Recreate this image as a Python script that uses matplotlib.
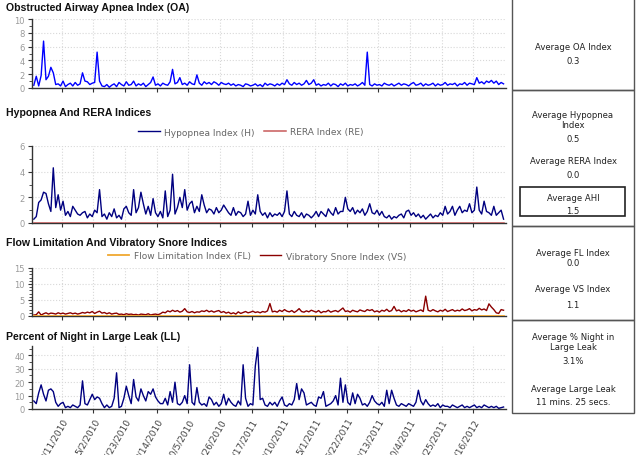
import numpy as np
import pandas as pd
import matplotlib
matplotlib.use("Agg")
import matplotlib.pyplot as plt
import matplotlib.dates as mdates
from matplotlib.patches import Rectangle
from matplotlib.ticker import AutoMinorLocator

plt.rcParams['font.family'] = ['DejaVu Sans']

# ---------------- data ----------------
start_date = "2010-01-24"
step_days = 4

oa_index = [
    0.4, 1.7, 0.3, 1.8, 6.8, 1.2, 1.7, 3.0, 2.2, 0.5,
    0.6, 0.3, 1.0, 0.2, 0.5, 0.7, 0.3, 0.8, 0.4, 0.6,
    2.2, 1.0, 0.9, 0.5, 0.7, 0.8, 5.2, 1.0, 0.3, 0.2,
    0.5, 0.1, 0.4, 0.6, 0.2, 0.8, 0.5, 0.3, 0.9, 0.4,
    0.5, 1.0, 0.3, 0.6, 0.4, 0.7, 0.2, 0.5, 0.8, 1.6,
    0.4, 0.6, 0.3, 0.7, 0.5, 0.4, 0.9, 2.7, 0.6, 0.8,
    1.5, 0.5, 0.7, 0.4, 0.9, 0.6, 0.5, 1.9, 0.7, 0.4,
    0.9, 0.6, 0.8, 0.5, 0.9, 0.7, 0.4, 0.8, 0.6, 0.5,
    0.7, 0.4, 0.6, 0.3, 0.5, 0.4, 0.2, 0.6, 0.5, 0.3,
    0.4, 0.6, 0.3, 0.5, 0.2, 0.7, 0.4, 0.6, 0.5, 0.3,
    0.6, 0.4, 0.7, 0.5, 1.2, 0.6, 0.4, 0.8, 0.5, 0.7,
    0.4, 0.6, 1.1, 0.5, 0.7, 1.2, 0.4, 0.6, 0.3, 0.5,
    0.4, 0.7, 0.3, 0.6, 0.5, 0.2, 0.6, 0.4, 0.7, 0.3,
    0.5, 0.4, 0.6, 0.3, 0.5, 0.8, 0.4, 5.2, 0.5, 0.3,
    0.6, 0.4, 0.5, 0.3, 0.7, 0.5, 0.4, 0.6, 0.3, 0.5,
    0.7, 0.4, 0.6, 0.5, 0.3, 0.6, 0.8, 0.4, 0.5, 0.7,
    0.3, 0.6, 0.4, 0.5, 0.7, 0.3, 0.6, 0.4, 0.5, 0.8,
    0.4, 0.6, 0.5, 0.7, 0.3, 0.6, 0.5, 0.8, 0.4, 0.7,
    0.6, 0.5, 1.5, 0.7, 0.9, 0.6, 1.0, 0.8, 1.1, 0.7,
    1.0, 0.5, 0.8, 0.6,
]

hypopnea_index = [
    0.3, 0.5, 1.6, 1.8, 2.4, 2.3, 1.5, 0.9, 4.3, 1.2,
    2.2, 1.0, 1.7, 0.6, 0.9, 0.5, 1.3, 1.0, 0.7, 0.6,
    0.8, 0.9, 0.4, 0.7, 0.5, 1.0, 0.8, 2.6, 0.5, 0.7,
    0.3, 0.8, 0.5, 1.1, 0.4, 0.6, 0.3, 1.1, 1.3, 0.8,
    0.6, 2.6, 0.8, 1.2, 2.4, 1.5, 0.7, 1.3, 0.6, 1.9,
    0.8, 0.5, 0.9, 0.4, 2.5, 0.5, 1.0, 3.8, 0.7, 1.2,
    2.0, 1.2, 2.6, 1.0, 1.5, 1.7, 0.8, 1.3, 0.9, 2.2,
    1.4, 0.8, 1.1, 1.0, 0.7, 1.2, 0.8, 1.0, 1.4, 1.1,
    0.8, 0.6, 1.2, 0.6, 0.9, 0.8, 0.5, 0.7, 1.7, 0.6,
    1.0, 0.7, 2.2, 0.9, 0.6, 0.8, 0.4, 0.8, 0.5, 0.7,
    0.6, 0.8, 0.5, 0.9, 2.5, 0.7, 0.5, 0.9, 0.6, 0.5,
    0.8, 0.4, 0.7, 0.6, 0.4, 0.6, 0.9, 0.5, 0.9, 0.7,
    0.5, 1.1, 0.8, 0.6, 1.2, 0.7, 0.9, 0.9, 2.0, 1.1,
    0.9, 1.2, 0.7, 1.0, 0.8, 1.1, 0.6, 0.9, 1.5, 0.8,
    0.7, 1.0, 0.6, 0.9, 0.5, 0.4, 0.6, 0.3, 0.5, 0.4,
    0.6, 0.7, 0.4, 0.9, 1.0, 0.6, 0.8, 0.5, 0.7, 0.4,
    0.6, 0.3, 0.5, 0.7, 0.4, 0.6, 0.5, 0.8, 0.6, 1.3,
    0.7, 0.9, 1.3, 0.6, 1.0, 1.3, 0.8, 1.0, 0.9, 1.5,
    0.8, 1.0, 2.8, 1.0, 0.7, 1.7, 0.9, 0.8, 0.6, 1.3,
    0.6, 0.8, 1.0, 0.3,
]

rera_index = [0.0] * len(hypopnea_index)

snore_index = [
    0.3, 0.4, 1.3, 0.3, 0.7, 1.0, 0.6, 0.9, 0.8, 0.6,
    1.0, 0.7, 0.9, 0.6, 0.8, 1.0, 0.7, 0.9, 0.6, 0.8,
    1.1, 0.9, 1.2, 1.0, 1.4, 0.8, 1.2, 1.5, 0.9, 1.1,
    0.7, 1.0, 0.6, 0.8, 0.9, 0.5, 0.6, 0.4, 0.7, 0.5,
    0.6, 0.4, 0.5, 0.3, 0.6, 0.5, 0.4, 0.7, 0.3, 0.5,
    0.6, 0.4, 0.7, 1.2, 1.0, 1.6, 1.3, 1.8, 1.4, 1.7,
    1.2, 1.5, 2.3, 1.3, 1.1, 1.4, 1.0, 1.3, 1.2, 1.6,
    1.4, 1.8, 1.3, 1.6, 1.2, 1.5, 1.7, 1.1, 1.4, 0.9,
    1.2, 0.7, 1.0, 0.6, 1.3, 0.8, 1.1, 1.4, 1.0, 1.2,
    1.5, 1.1, 1.3, 1.0, 1.4, 1.2, 1.6, 3.9, 1.3, 1.5,
    1.2, 1.8, 1.4, 2.0, 1.5, 1.3, 1.7, 1.1, 1.6, 2.3,
    1.4, 1.2, 1.6, 1.3, 1.8, 1.5, 1.2, 1.7, 1.0, 1.4,
    1.3, 1.8, 1.2, 1.5, 1.7, 1.3, 1.9, 2.5, 1.4, 1.6,
    1.2, 1.8, 1.5, 1.3, 1.9, 1.6, 1.4, 2.0, 1.7, 2.0,
    1.3, 1.6, 1.2, 1.8, 1.5, 2.1, 1.4, 1.7, 3.0, 1.6,
    1.9, 1.3, 1.7, 1.4, 2.0, 1.5, 1.8, 1.3, 1.6, 1.9,
    1.4, 6.2, 1.8, 1.5, 2.0, 1.6, 1.3, 1.8, 1.5, 2.1,
    1.4, 1.7, 2.0, 1.5, 1.8, 1.6, 2.2, 1.7, 1.9, 2.3,
    1.6, 2.0, 1.8, 2.4, 1.9, 2.2, 1.7, 3.8, 2.8, 2.0,
    1.0, 0.8, 2.0, 1.8,
]

flow_limitation_index = [0.0] * len(snore_index)

large_leak_pct = [
    6, 4, 12, 18, 11, 6, 14, 15, 13, 5,
    2, 4, 5, 1, 2, 1, 3, 2, 1, 3,
    21, 4, 3, 7, 11, 7, 9, 8, 4, 1,
    3, 1, 2, 8, 27, 1, 2, 8, 17, 10,
    4, 22, 9, 6, 15, 10, 6, 13, 11, 15,
    9, 6, 4, 4, 8, 3, 13, 5, 20, 4,
    3, 5, 10, 4, 33, 5, 3, 16, 5, 3,
    4, 2, 9, 7, 3, 5, 2, 4, 11, 3,
    8, 5, 3, 2, 6, 3, 33, 8, 2, 4,
    3, 32, 46, 7, 8, 3, 2, 5, 3, 5,
    2, 6, 9, 3, 2, 4, 3, 7, 19, 7,
    15, 12, 3, 4, 5, 3, 2, 9, 8, 13,
    2, 3, 4, 6, 10, 3, 23, 5, 18, 5,
    3, 12, 4, 11, 8, 3, 4, 2, 5, 10,
    6, 4, 3, 5, 2, 14, 4, 14, 8, 3,
    2, 4, 3, 2, 4, 3, 2, 5, 14, 6,
    3, 7, 4, 2, 3, 2, 4, 1, 3, 2,
    2, 1, 3, 2, 1, 2, 3, 1, 2, 1,
    2, 3, 1, 2, 1, 3, 2, 1, 2, 1,
    2, 0.5, 1, 1.5,
]

tick_labels = ["3/11/2010", "5/2/2010", "6/23/2010", "8/14/2010", "10/5/2010",
               "11/26/2010", "1/17/2011", "3/10/2011", "5/1/2011", "6/22/2011",
               "8/13/2011", "10/4/2011", "11/25/2011", "1/16/2012"]

panel_titles = ["Obstructed Airway Apnea Index (OA)", "Hypopnea And RERA Indices",
                "Flow Limitation And Vibratory Snore Indices", "Percent of Night in Large Leak (LL)"]

avg_oa = "0.3"
avg_h = "0.5"
avg_re = "0.0"
avg_ahi = "1.5"
avg_fl = "0.0"
avg_vs = "1.1"
avg_ll_pct = "3.1%"
avg_ll_time = "11 mins. 25 secs."

# ---------------- figure ----------------
W, H = 640, 456
fig = plt.figure(figsize=(W / 100, H / 100), dpi=100)
fig.patch.set_facecolor("white")

def fx(x):
    return x / W

def fy(y):
    return 1 - y / H

def add_ax(top, bottom, left=32, right=506):
    return fig.add_axes([fx(left), fy(bottom), fx(right) - fx(left), (bottom - top) / H])

dates = pd.to_datetime(start_date) + pd.to_timedelta(np.arange(len(oa_index)) * step_days, unit="D")
xd = mdates.date2num(dates)
tick_dates = mdates.date2num(pd.to_datetime(tick_labels, format="%m/%d/%Y"))
x0 = mdates.date2num(pd.Timestamp("2010-01-21"))
x1 = mdates.date2num(pd.Timestamp("2012-03-10"))

ax1 = add_ax(20, 89)
ax2 = add_ax(147, 224)
ax3 = add_ax(269, 317)
ax4 = add_ax(347, 410)

lw = 1.0
ax1.plot(xd, oa_index, color="#0000ff", lw=lw)
ax2.plot(xd, rera_index, color="#c85a5a", lw=1.1, label="RERA Index (RE)", zorder=3)
ax2.plot(xd, hypopnea_index, color="#000080", lw=lw, label="Hypopnea Index (H)", zorder=2)
ax3.plot(xd, flow_limitation_index, color="#f0a830", lw=1.3, label="Flow Limitation Index (FL)", zorder=3)
ax3.plot(xd, snore_index, color="#8b0000", lw=lw, label="Vibratory Snore Index (VS)", zorder=2)
ax4.plot(xd, large_leak_pct, color="#000080", lw=lw)

ylims = [(0, 10), (0, 6), (0, 15), (0, 47)]
yticks = [[0, 2, 4, 6, 8, 10], [0, 2, 4, 6], [0, 5, 10, 15], [0, 10, 20, 30, 40]]
minors = [2, 2, 5, 2]
for ax, yl, yt, mn in zip([ax1, ax2, ax3, ax4], ylims, yticks, minors):
    ax.set_xlim(x0, x1)
    ax.set_ylim(*yl)
    ax.set_yticks(yt)
    ax.yaxis.set_minor_locator(AutoMinorLocator(mn))
    ax.set_xticks(tick_dates)
    ax.grid(True, which="major", color="#d8d8d8", linestyle=":", linewidth=0.8)
    for s in ["top", "right"]:
        ax.spines[s].set_visible(False)
    for s in ["left", "bottom"]:
        ax.spines[s].set_color("#333333")
        ax.spines[s].set_linewidth(1.0)
    ax.tick_params(axis="y", which="major", labelsize=6, labelcolor="#9a9a9a", color="#333333",
                   length=3, width=0.8, pad=2)
    ax.tick_params(axis="y", which="minor", color="#333333", length=2, width=0.6)
    ax.tick_params(axis="x", which="major", color="#333333", length=3, width=0.8)
    ax.set_axisbelow(True)

for ax in [ax1, ax2, ax3]:
    ax.set_xticklabels([])
ax4.set_xticklabels(tick_labels, rotation=60, ha="right", rotation_mode="anchor",
                    fontsize=6.5, color="#444444")
ax4.tick_params(axis="x", pad=2)

# legends
h2, l2 = ax2.get_legend_handles_labels()
fig.legend([h2[1], h2[0]], [l2[1], l2[0]], loc="center", ncol=2, frameon=False,
           bbox_to_anchor=(fx(251), fy(133)), fontsize=6.5, handlelength=2.4,
           columnspacing=1.0, handletextpad=0.5, labelcolor="#666666")
h3, l3 = ax3.get_legend_handles_labels()
fig.legend(h3, l3, loc="center", ncol=2, frameon=False,
           bbox_to_anchor=(fx(257), fy(257)), fontsize=6.5, handlelength=2.4,
           columnspacing=1.0, handletextpad=0.5, labelcolor="#666666")

# titles
for t, y in zip(panel_titles, [8, 113, 243, 337]):
    fig.text(fx(6), fy(y), t, fontsize=7.6, fontweight="bold", va="center", ha="left",
             color="#111111", family=["Liberation Sans", "DejaVu Sans"])

# right-side boxes
for top, bottom in [(-3, 91), (91, 227), (227, 321), (321, 414)]:
    fig.patches.append(Rectangle((fx(512), fy(bottom)), fx(634) - fx(512), (bottom - top) / H,
                                 transform=fig.transFigure, fill=False, edgecolor="#555555",
                                 linewidth=1.0))
fig.patches.append(Rectangle((fx(520), fy(217)), fx(625) - fx(520), (217 - 188) / H,
                             transform=fig.transFigure, fill=False, edgecolor="#222222",
                             linewidth=1.2))

cx = fx(573)
box_texts = [
    ("Average OA Index", 47), (avg_oa, 61),
    ("Average Hypopnea", 115), ("Index", 126), (avg_h, 139),
    ("Average RERA Index", 162), (avg_re, 176),
    ("Average AHI", 199), (avg_ahi, 212),
    ("Average FL Index", 253), (avg_fl, 264),
    ("Average VS Index", 290), (avg_vs, 306),
    ("Average % Night in", 337), ("Large Leak", 348), (avg_ll_pct, 362),
    ("Average Large Leak", 390), (avg_ll_time, 403),
]
for t, y in box_texts:
    fig.text(cx, fy(y), t, fontsize=6.1, ha="center", va="center", color="#222222")

fig.savefig("out.png", dpi=100)
